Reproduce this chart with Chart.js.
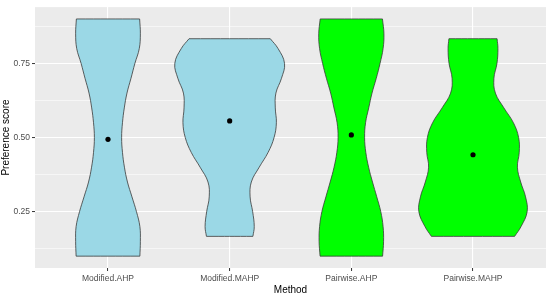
<!DOCTYPE html>
<html>
<head>
<meta charset="utf-8">
<script src="https://cdn.jsdelivr.net/npm/chart.js@4.4.1/dist/chart.umd.min.js"></script>
<style>
  html, body { margin: 0; padding: 0; background: #ffffff; }
</style>
</head>
<body>
<canvas id="myChart" width="550" height="297"></canvas>
<script>
// categories on the x axis
const categories = ["Modified.AHP", "Modified.MAHP", "Pairwise.AHP", "Pairwise.MAHP"];

// y axis ticks (major carry labels, minor are only grid lines)
const yTickValues = [0.25, 0.5, 0.75];
const yMinorTicks = [0.125, 0.375, 0.625, 0.875];

// median point of each group
const medians = [0.494, 0.556, 0.509, 0.442];

const ahpLevels = [0.10, 0.15, 0.20, 0.25, 0.30, 0.35, 0.40, 0.45, 0.50, 0.55, 0.60, 0.65, 0.70, 0.75, 0.80, 0.85, 0.90];
const mahpLevels = [0.1667, 0.20, 0.25, 0.30, 0.35, 0.40, 0.45, 0.50, 0.55, 0.60, 0.65, 0.70, 0.75, 0.80, 0.8333];

// half-widths of each violin (scaled density, in category units)
const modifiedAhpWidth = [0.262, 0.266, 0.262, 0.234, 0.197, 0.160, 0.135, 0.119, 0.112, 0.119, 0.134, 0.156, 0.189, 0.221, 0.257, 0.266, 0.260];
const modifiedMahpWidth = [0.191, 0.202, 0.189, 0.168, 0.178, 0.243, 0.316, 0.365, 0.384, 0.375, 0.380, 0.426, 0.451, 0.398, 0.334];
const pairwiseAhpWidth = [0.257, 0.265, 0.261, 0.242, 0.209, 0.174, 0.142, 0.119, 0.109, 0.117, 0.143, 0.170, 0.205, 0.236, 0.261, 0.268, 0.256];
const pairwiseMahpWidth = [0.342, 0.395, 0.445, 0.432, 0.392, 0.365, 0.380, 0.375, 0.332, 0.254, 0.184, 0.172, 0.197, 0.205, 0.198];

const fillColors = ["#9BD8E6", "#9BD8E6", "#00FF00", "#00FF00"];

// outline of a violin: up the left side, across the top, down the right side, back across the bottom
// corner points are doubled so the flat ends stay straight with the bezier tension
function violinOutline(center, levels, widths) {
  const n = levels.length;
  const pts = [];
  for (let i = 0; i < n; i++) pts.push({ x: center - widths[i], y: levels[i] });
  pts.push({ x: center - widths[n - 1], y: levels[n - 1] });
  pts.push({ x: center + widths[n - 1], y: levels[n - 1] });
  for (let i = n - 1; i >= 0; i--) pts.push({ x: center + widths[i], y: levels[i] });
  pts.push({ x: center + widths[0], y: levels[0] });
  pts.push({ x: center - widths[0], y: levels[0] });
  return pts;
}

const violins = [
  [ahpLevels, modifiedAhpWidth],
  [mahpLevels, modifiedMahpWidth],
  [ahpLevels, pairwiseAhpWidth],
  [mahpLevels, pairwiseMahpWidth],
];

const violinDatasets = violins.map(([levels, widths], i) => ({
  label: categories[i],
  data: violinOutline(i + 1, levels, widths),
  showLine: true,
  fill: "shape",
  tension: 0.4,
  backgroundColor: fillColors[i],
  borderColor: "#3a3a3a",
  borderWidth: 0.8,
  pointRadius: 0,
  order: 1,
}));

const medianDataset = {
  label: "median",
  data: medians.map((m, i) => ({ x: i + 1, y: m })),
  pointRadius: 2.6,
  pointBackgroundColor: "#000000",
  pointBorderWidth: 0,
  showLine: false,
  order: 0,
};

const isMajor = v => yTickValues.some(t => Math.abs(t - v) < 1e-9);

const tickFont = { family: "'Liberation Sans', Arial, sans-serif", size: 8.5 };
const titleFont = { family: "'Liberation Sans', Arial, sans-serif", size: 10 };

// grey panel behind the plot
const panelBg = {
  id: "panelBg",
  beforeDraw(chart) {
    const { ctx, chartArea: a } = chart;
    ctx.save();
    ctx.fillStyle = "#EBEBEB";
    ctx.fillRect(a.left, a.top, a.right - a.left, a.bottom - a.top);
    ctx.restore();
  },
};

const ctx = document.getElementById("myChart").getContext("2d");
new Chart(ctx, {
  type: "scatter",
  data: { datasets: [medianDataset, ...violinDatasets] },
  options: {
    responsive: false,
    animation: false,
    layout: { padding: { top: 4, right: 3, left: 0, bottom: 0 } },
    plugins: { legend: { display: false }, tooltip: { enabled: false } },
    scales: {
      x: {
        type: "linear",
        min: 0.4,
        max: 4.6,
        afterBuildTicks: s => { s.ticks = categories.map((c, i) => ({ value: i + 1 })); },
        afterFit: s => { s.height = 29; },
        ticks: {
          callback: v => categories[Math.round(v) - 1],
          font: tickFont,
          color: "#4D4D4D",
          padding: 3,
          maxRotation: 0,
          autoSkip: false,
        },
        grid: { color: "#FFFFFF", lineWidth: 1.1, tickColor: "#333333", tickLength: 3, tickWidth: 1 },
        border: { display: false },
        title: { display: true, text: "Method", font: titleFont, color: "#000000", padding: { top: 0, bottom: 0.5 } },
      },
      y: {
        type: "linear",
        min: 0.06,
        max: 0.94,
        afterBuildTicks: s => {
          s.ticks = [...yMinorTicks, ...yTickValues].sort((a, b) => a - b).map(v => ({ value: v }));
        },
        afterFit: s => { s.width = 35; },
        ticks: {
          callback: v => (isMajor(v) ? v.toFixed(2) : ""),
          font: tickFont,
          color: "#4D4D4D",
          padding: 2,
        },
        grid: {
          color: "#FFFFFF",
          lineWidth: c => (isMajor(c.tick.value) ? 1.1 : 0.55),
          tickColor: c => (isMajor(c.tick.value) ? "#333333" : "rgba(0,0,0,0)"),
          tickLength: 3,
          tickWidth: 1,
        },
        border: { display: false },
        title: { display: true, text: "Preference score", font: titleFont, color: "#000000", padding: { top: 0.5, bottom: 0 } },
      },
    },
  },
  plugins: [panelBg],
});
</script>
</body>
</html>
